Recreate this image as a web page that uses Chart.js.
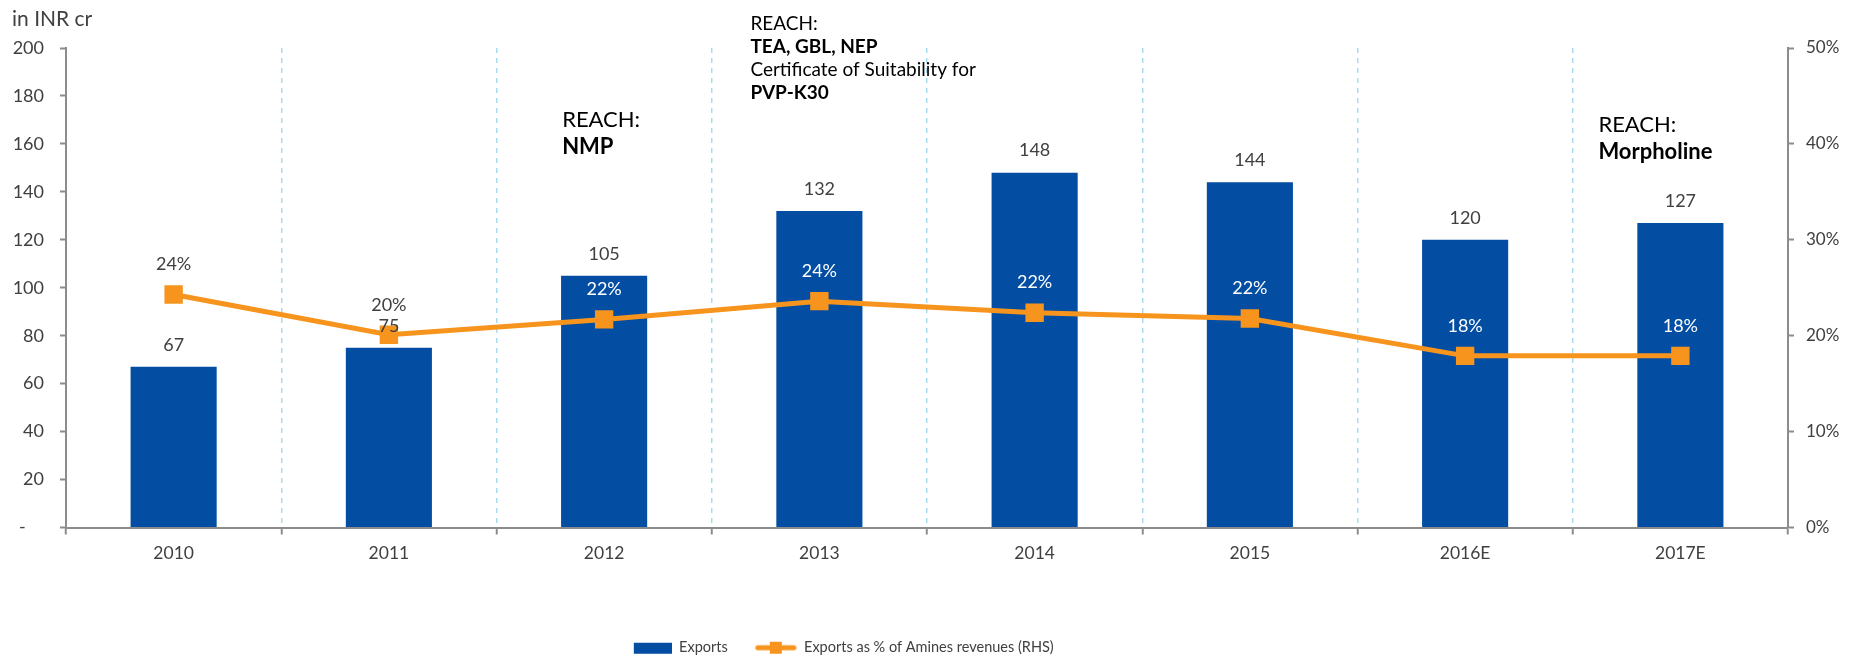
<!DOCTYPE html>
<html>
<head>
<meta charset="utf-8">
<script src="https://cdn.jsdelivr.net/npm/chart.js@4"></script>
<style>
  html, body { margin: 0; padding: 0; background: #fff; }
</style>
</head>
<body>
<canvas id="myChart" width="1858" height="660"></canvas>
<script>
// data
const years = ["2010", "2011", "2012", "2013", "2014", "2015", "2016E", "2017E"];
const exportsCr = [67, 75, 105, 132, 148, 144, 120, 127];
const exportsPct = [24.3, 20.1, 21.7, 23.6, 22.4, 21.8, 17.9, 17.9];
const leftTicks = [0, 20, 40, 60, 80, 100, 120, 140, 160, 180, 200];
const rightTicks = [0, 10, 20, 30, 40, 50];

// text notes above the bars
const noteNmp = ["REACH:", "NMP"];
const noteTea = ["REACH:", "TEA, GBL, NEP", "Certificate of Suitability for", "PVP-K30"];
const noteMorph = ["REACH:", "Morpholine"];

const BLUE = "#034ea2";
const ORANGE = "#f7941d";
const GREY = "#8c8c8c";
const TEXT = "#404040";
const FONT = "Lato";

// small pictures for the legend
function legendIcon(kind) {
  const c = document.createElement("canvas");
  c.width = 68;
  c.height = 20;
  const g = c.getContext("2d");
  if (kind === "bar") {
    g.fillStyle = BLUE;
    g.fillRect(30, 5, 38, 11);
  } else {
    g.strokeStyle = ORANGE;
    g.lineWidth = 5;
    g.lineCap = "round";
    g.beginPath();
    g.moveTo(29, 10);
    g.lineTo(65, 10);
    g.stroke();
    g.fillStyle = ORANGE;
    g.fillRect(41, 4, 12, 12);
  }
  return c;
}
const icons = [legendIcon("bar"), legendIcon("line")];

const labelPlugin = {
  id: "labels",
  afterDatasetsDraw(chart) {
    const ctx = chart.ctx;
    const bars = chart.getDatasetMeta(0).data;
    const pts = chart.getDatasetMeta(1).data;
    const xs = chart.scales.x;
    ctx.save();
    ctx.textAlign = "center";
    ctx.textBaseline = "middle";
    ctx.font = "18px " + FONT;
    bars.forEach((bar, i) => {
      ctx.fillStyle = TEXT;
      ctx.fillText(exportsCr[i], bar.x, bar.y - 22);
    });
    pts.forEach((pt, i) => {
      // white when the point sits inside its bar
      ctx.fillStyle = pt.y > bars[i].y ? "#fff" : TEXT;
      ctx.fillText(Math.round(exportsPct[i]) + "%", pt.x, pt.y - 30);
    });

    // the notes
    ctx.textAlign = "left";
    ctx.fillStyle = "#000";
    function note(lines, idx, dx, ys, size) {
      const x = xs.getPixelForValue(idx) + dx;
      lines.forEach((t, j) => {
        const bold = j % 2 === 1;
        ctx.font = (bold ? "bold " : "") + size + "px " + FONT;
        ctx.fillText(t, x, ys[j]);
      });
    }
    note(noteNmp, 2, -42, [120, 147], 22);
    note(noteTea, 3, -69, [24, 47, 70, 93], 19);
    note(noteMorph, 7, -82, [125, 152], 22);

    ctx.font = "21px " + FONT;
    ctx.fillStyle = TEXT;
    ctx.fillText("in INR cr", 12, 19);
    ctx.restore();
  }
};

const ctx = document.getElementById("myChart").getContext("2d");
new Chart(ctx, {
  type: "bar",
  data: {
    labels: years,
    datasets: [
      {
        type: "bar",
        label: "Exports",
        data: exportsCr,
        backgroundColor: BLUE,
        barPercentage: 0.8,
        categoryPercentage: 0.5,
        yAxisID: "y",
        order: 1
      },
      {
        type: "line",
        label: "Exports as % of Amines revenues (RHS)",
        data: exportsPct,
        borderColor: ORANGE,
        backgroundColor: ORANGE,
        borderWidth: 5,
        pointStyle: "rect",
        pointRadius: 13,
        pointHoverRadius: 13,
        pointBackgroundColor: ORANGE,
        pointBorderWidth: 0,
        tension: 0,
        yAxisID: "y1",
        order: 0
      }
    ]
  },
  options: {
    responsive: false,
    animation: false,
    devicePixelRatio: 1,
    layout: { padding: { top: 48, left: 0, right: 0, bottom: -5 } },
    plugins: {
      tooltip: { enabled: false },
      legend: {
        position: "bottom",
        labels: {
          usePointStyle: true,
          pointStyleWidth: 68,
          padding: 1,
          color: TEXT,
          font: { family: FONT, size: 14.5 },
          generateLabels(chart) {
            return chart.data.datasets.map((ds, i) => ({
              text: i === 1 ? ds.label + " ".repeat(54) : ds.label,
              datasetIndex: i,
              pointStyle: icons[i],
              fillStyle: ds.backgroundColor,
              strokeStyle: ds.backgroundColor,
              lineWidth: 0,
              hidden: false,
              fontColor: TEXT
            }));
          }
        }
      }
    },
    scales: {
      x: {
        grid: {
          offset: true,
          color: "#a9dcf3",
          lineWidth: 1.5,
          drawTicks: true,
          tickLength: 7,
          tickColor: GREY,
          tickWidth: 2,
          tickBorderDash: []
        },
        border: { color: GREY, width: 2, dash: [5, 5] },
        ticks: { color: TEXT, font: { family: FONT, size: 17.5 }, padding: 8 },
        afterFit(scale) { scale.height = 112; }
      },
      y: {
        position: "left",
        min: 0,
        max: 200,
        afterBuildTicks(scale) { scale.ticks = leftTicks.map(v => ({ value: v })); },
        grid: { drawOnChartArea: false, tickLength: 6, tickColor: GREY, tickWidth: 2 },
        border: { color: GREY, width: 2 },
        ticks: {
          color: TEXT,
          font: { family: FONT, size: 18 },
          padding: 16,
          callback: v => (v === 0 ? "-    " : v)
        },
        afterFit(scale) { scale.width = 66; }
      },
      y1: {
        position: "right",
        min: 0,
        max: 50,
        afterBuildTicks(scale) { scale.ticks = rightTicks.map(v => ({ value: v })); },
        grid: { drawOnChartArea: false, tickLength: 6, tickColor: GREY, tickWidth: 2 },
        border: { color: GREY, width: 2 },
        ticks: {
          color: TEXT,
          font: { family: FONT, size: 17 },
          padding: 12,
          callback: v => v + "%"
        },
        afterFit(scale) { scale.width = 70; }
      }
    }
  },
  plugins: [labelPlugin]
});
</script>
</body>
</html>
